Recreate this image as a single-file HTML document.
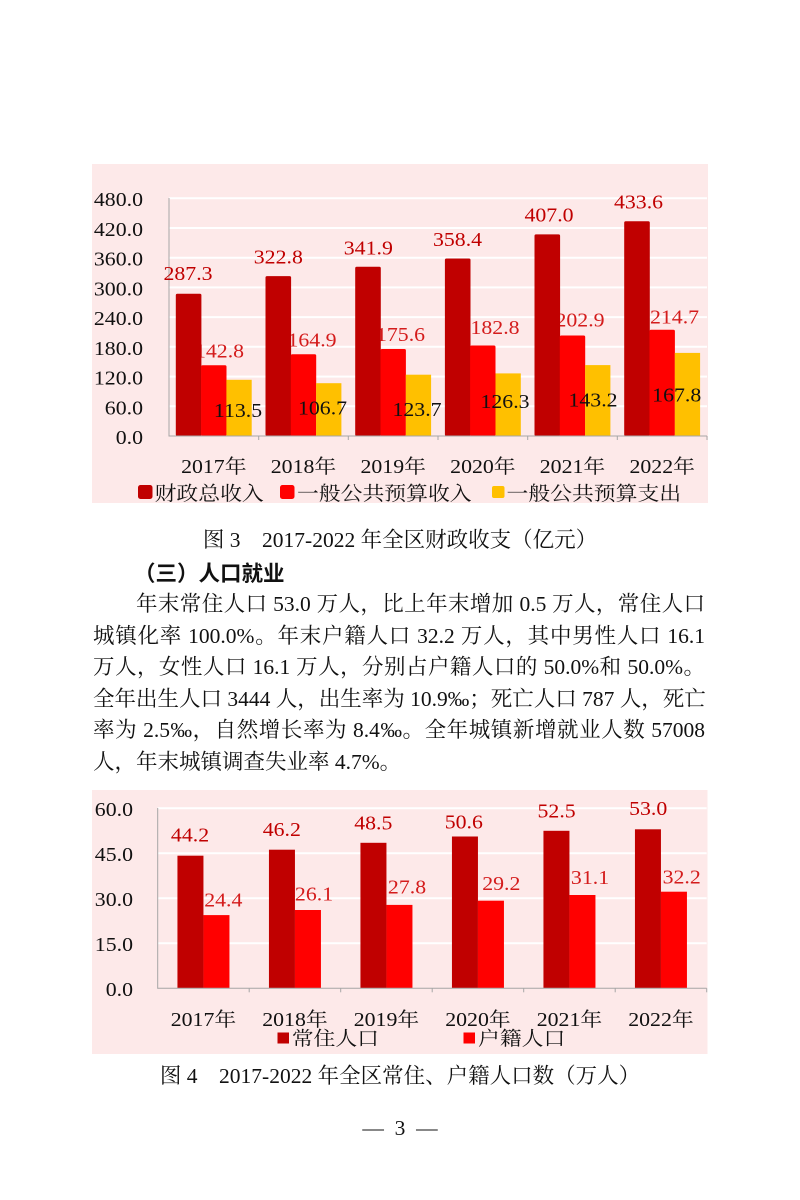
<!DOCTYPE html>
<html>
<head>
<meta charset="utf-8">
<style>
html,body{margin:0;padding:0;background:#fff;}
#page{position:relative;width:800px;height:1200px;overflow:hidden;background:#fff;}
svg{position:absolute;left:0;top:0;}
.t{position:absolute;font-family:"Liberation Serif","Noto Serif CJK SC",serif;font-size:21.5px;line-height:31.5px;color:#111;white-space:nowrap;}
.ln{left:93px;width:612px;text-align:justify;text-align-last:justify;}
.cap{left:0;width:800px;text-align:center;}
.hd{position:absolute;left:134px;font-family:"Noto Sans CJK SC",sans-serif;font-weight:700;font-size:21.5px;line-height:31.5px;color:#111;white-space:nowrap;}
</style>
</head>
<body>
<div id="page">
<svg width="800" height="1200" viewBox="0 0 800 1200" xmlns="http://www.w3.org/2000/svg" font-family="'Liberation Serif','Noto Serif CJK SC',serif" font-size="19.5">
  <!-- ============ CHART 1 ============ -->
  <rect x="92" y="164" width="616" height="339" fill="#fde9e9"/>
  <g stroke="#ffffff" stroke-width="2">
    <line x1="169" y1="406.3" x2="707" y2="406.3"/>
    <line x1="169" y1="376.6" x2="707" y2="376.6"/>
    <line x1="169" y1="346.8" x2="707" y2="346.8"/>
    <line x1="169" y1="317.1" x2="707" y2="317.1"/>
    <line x1="169" y1="287.4" x2="707" y2="287.4"/>
    <line x1="169" y1="257.7" x2="707" y2="257.7"/>
    <line x1="169" y1="228.0" x2="707" y2="228.0"/>
    <line x1="169" y1="198.2" x2="707" y2="198.2"/>
  </g>
  <!-- red labels (drawn under bars) -->
  <g fill="#d41c1c">
    <text transform="translate(219.5,357.5) scale(1.12,1)" text-anchor="middle">142.8</text>
    <text transform="translate(312,346.7) scale(1.12,1)" text-anchor="middle">164.9</text>
    <text transform="translate(400.5,341) scale(1.12,1)" text-anchor="middle">175.6</text>
    <text transform="translate(495,334) scale(1.12,1)" text-anchor="middle">182.8</text>
    <text transform="translate(580,326.7) scale(1.12,1)" text-anchor="middle">202.9</text>
    <text transform="translate(674.5,323.3) scale(1.12,1)" text-anchor="middle">214.7</text>
  </g>
  <!-- dark red bars -->
  <g fill="#c00000">
    <rect x="175.8" y="293.7" width="25.6" height="142.3" rx="1.5"/>
    <rect x="265.5" y="276.1" width="25.6" height="159.9" rx="1.5"/>
    <rect x="355.2" y="266.7" width="25.6" height="169.3" rx="1.5"/>
    <rect x="444.9" y="258.5" width="25.6" height="177.5" rx="1.5"/>
    <rect x="534.5" y="234.4" width="25.6" height="201.6" rx="1.5"/>
    <rect x="624.2" y="221.2" width="25.6" height="214.8" rx="1.5"/>
  </g>
  <g fill="#ff0000">
    <rect x="201.1" y="365.3" width="25.4" height="70.7" rx="1.5"/>
    <rect x="290.8" y="354.3" width="25.4" height="81.7" rx="1.5"/>
    <rect x="380.5" y="349.0" width="25.4" height="87.0" rx="1.5"/>
    <rect x="470.1" y="345.5" width="25.4" height="90.5" rx="1.5"/>
    <rect x="559.8" y="335.5" width="25.4" height="100.5" rx="1.5"/>
    <rect x="649.5" y="329.7" width="25.4" height="106.3" rx="1.5"/>
  </g>
  <g fill="#ffc000">
    <rect x="226.4" y="379.8" width="25.3" height="56.2"/>
    <rect x="316.1" y="383.2" width="25.3" height="52.8"/>
    <rect x="405.8" y="374.7" width="25.3" height="61.3"/>
    <rect x="495.5" y="373.4" width="25.3" height="62.6"/>
    <rect x="585.1" y="365.1" width="25.3" height="70.9"/>
    <rect x="674.8" y="352.9" width="25.3" height="83.1"/>
  </g>
  <!-- axes -->
  <g stroke="#a6a6a6" stroke-width="1" fill="none">
    <line x1="169" y1="198" x2="169" y2="436.5"/>
    <line x1="169" y1="436" x2="707" y2="436"/>
    <line x1="258.7" y1="436" x2="258.7" y2="440"/>
    <line x1="348.3" y1="436" x2="348.3" y2="440"/>
    <line x1="438" y1="436" x2="438" y2="440"/>
    <line x1="527.7" y1="436" x2="527.7" y2="440"/>
    <line x1="617.3" y1="436" x2="617.3" y2="440"/>
    <line x1="707" y1="436" x2="707" y2="440"/>
  </g>
  <!-- dark red labels -->
  <g fill="#c00000">
    <text transform="translate(188,280) scale(1.12,1)" text-anchor="middle">287.3</text>
    <text transform="translate(278.3,263.3) scale(1.12,1)" text-anchor="middle">322.8</text>
    <text transform="translate(368.3,254.3) scale(1.12,1)" text-anchor="middle">341.9</text>
    <text transform="translate(457.5,246) scale(1.12,1)" text-anchor="middle">358.4</text>
    <text transform="translate(549,221.7) scale(1.12,1)" text-anchor="middle">407.0</text>
    <text transform="translate(638.5,208.3) scale(1.12,1)" text-anchor="middle">433.6</text>
  </g>
  <!-- yellow labels -->
  <g fill="#111">
    <text transform="translate(238,417) scale(1.12,1)" text-anchor="middle">113.5</text>
    <text transform="translate(322.5,414.5) scale(1.12,1)" text-anchor="middle">106.7</text>
    <text transform="translate(417,416) scale(1.12,1)" text-anchor="middle">123.7</text>
    <text transform="translate(505,408) scale(1.12,1)" text-anchor="middle">126.3</text>
    <text transform="translate(593,406.5) scale(1.12,1)" text-anchor="middle">143.2</text>
    <text transform="translate(676.7,401.5) scale(1.12,1)" text-anchor="middle">167.8</text>
  </g>
  <!-- y tick labels -->
  <g fill="#111" text-anchor="end">
    <text transform="translate(143,206.2) scale(1.12,1)">480.0</text>
    <text transform="translate(143,236) scale(1.12,1)">420.0</text>
    <text transform="translate(143,265.7) scale(1.12,1)">360.0</text>
    <text transform="translate(143,295.4) scale(1.12,1)">300.0</text>
    <text transform="translate(143,325.1) scale(1.12,1)">240.0</text>
    <text transform="translate(143,354.8) scale(1.12,1)">180.0</text>
    <text transform="translate(143,384.6) scale(1.12,1)">120.0</text>
    <text transform="translate(143,414.3) scale(1.12,1)">60.0</text>
    <text transform="translate(143,444) scale(1.12,1)">0.0</text>
  </g>
  <!-- x labels -->
  <g fill="#111" text-anchor="middle">
    <text transform="translate(213.8,473) scale(1.12,1)">2017年</text>
    <text transform="translate(303.5,473) scale(1.12,1)">2018年</text>
    <text transform="translate(393.2,473) scale(1.12,1)">2019年</text>
    <text transform="translate(482.9,473) scale(1.12,1)">2020年</text>
    <text transform="translate(572.5,473) scale(1.12,1)">2021年</text>
    <text transform="translate(662.2,473) scale(1.12,1)">2022年</text>
  </g>
  <!-- legend 1 -->
  <rect x="138" y="485" width="14.5" height="14" rx="2.5" fill="#c00000"/>
  <rect x="280" y="485" width="14.5" height="14" rx="2.5" fill="#ff0000"/>
  <rect x="492" y="486" width="12.5" height="12" rx="2" fill="#ffc000"/>
  <g fill="#111">
    <text transform="translate(154.6,500) scale(1.12,1)">财政总收入</text>
    <text transform="translate(297,500) scale(1.12,1)">一般公共预算收入</text>
    <text transform="translate(506.5,500) scale(1.12,1)">一般公共预算支出</text>
  </g>

  <!-- ============ CHART 2 ============ -->
  <rect x="92" y="790" width="615.5" height="264" fill="#fde9e9"/>
  <g stroke="#ffffff" stroke-width="2">
    <line x1="157.7" y1="808.3" x2="706.7" y2="808.3"/>
    <line x1="157.7" y1="853.3" x2="706.7" y2="853.3"/>
    <line x1="157.7" y1="898.3" x2="706.7" y2="898.3"/>
    <line x1="157.7" y1="943.3" x2="706.7" y2="943.3"/>
  </g>
  <g fill="#c00000">
    <rect x="177.45" y="855.7" width="26" height="132.6"/>
    <rect x="268.95" y="849.7" width="26" height="138.6"/>
    <rect x="360.45" y="842.8" width="26" height="145.5"/>
    <rect x="451.95" y="836.5" width="26" height="151.8"/>
    <rect x="543.45" y="830.8" width="26" height="157.5"/>
    <rect x="634.95" y="829.3" width="26" height="159.0"/>
  </g>
  <g fill="#ff0000">
    <rect x="203.45" y="915.1" width="26" height="73.2"/>
    <rect x="294.95" y="910.0" width="26" height="78.3"/>
    <rect x="386.45" y="904.9" width="26" height="83.4"/>
    <rect x="477.95" y="900.7" width="26" height="87.6"/>
    <rect x="569.45" y="895.0" width="26" height="93.3"/>
    <rect x="660.95" y="891.7" width="26" height="96.6"/>
  </g>
  <g stroke="#a6a6a6" stroke-width="1" fill="none">
    <line x1="157.7" y1="808" x2="157.7" y2="988.8"/>
    <line x1="157.7" y1="988.3" x2="706.7" y2="988.3"/>
    <line x1="249.2" y1="988.3" x2="249.2" y2="992.3"/>
    <line x1="340.7" y1="988.3" x2="340.7" y2="992.3"/>
    <line x1="432.2" y1="988.3" x2="432.2" y2="992.3"/>
    <line x1="523.7" y1="988.3" x2="523.7" y2="992.3"/>
    <line x1="615.2" y1="988.3" x2="615.2" y2="992.3"/>
    <line x1="706.7" y1="988.3" x2="706.7" y2="992.3"/>
  </g>
  <g fill="#c00000" text-anchor="middle">
    <text transform="translate(190,841.7) scale(1.12,1)">44.2</text>
    <text transform="translate(281.8,836) scale(1.12,1)">46.2</text>
    <text transform="translate(373.3,829.3) scale(1.12,1)">48.5</text>
    <text transform="translate(463.8,828.3) scale(1.12,1)">50.6</text>
    <text transform="translate(556.6,817.3) scale(1.12,1)">52.5</text>
    <text transform="translate(648.2,815) scale(1.12,1)">53.0</text>
  </g>
  <g fill="#d41c1c" text-anchor="middle">
    <text transform="translate(223.3,906.7) scale(1.12,1)">24.4</text>
    <text transform="translate(314,900.7) scale(1.12,1)">26.1</text>
    <text transform="translate(407,893.3) scale(1.12,1)">27.8</text>
    <text transform="translate(501.3,890) scale(1.12,1)">29.2</text>
    <text transform="translate(590,884) scale(1.12,1)">31.1</text>
    <text transform="translate(681.7,883.3) scale(1.12,1)">32.2</text>
  </g>
  <g fill="#111" text-anchor="end">
    <text transform="translate(133,815.8) scale(1.12,1)">60.0</text>
    <text transform="translate(133,860.8) scale(1.12,1)">45.0</text>
    <text transform="translate(133,905.8) scale(1.12,1)">30.0</text>
    <text transform="translate(133,950.8) scale(1.12,1)">15.0</text>
    <text transform="translate(133,995.8) scale(1.12,1)">0.0</text>
  </g>
  <g fill="#111" text-anchor="middle">
    <text transform="translate(203.45,1026) scale(1.12,1)">2017年</text>
    <text transform="translate(294.95,1026) scale(1.12,1)">2018年</text>
    <text transform="translate(386.45,1026) scale(1.12,1)">2019年</text>
    <text transform="translate(477.95,1026) scale(1.12,1)">2020年</text>
    <text transform="translate(569.45,1026) scale(1.12,1)">2021年</text>
    <text transform="translate(660.95,1026) scale(1.12,1)">2022年</text>
  </g>
  <rect x="277.5" y="1032.5" width="11.5" height="11" fill="#c00000"/>
  <rect x="463.5" y="1032.5" width="11.5" height="11" fill="#ff0000"/>
  <g fill="#111">
    <text transform="translate(291.7,1045) scale(1.12,1)">常住人口</text>
    <text transform="translate(478,1045) scale(1.12,1)">户籍人口</text>
  </g>
</svg>

<div class="t cap" style="top:525px;">图 3　2017-2022 年全区财政收支（亿元）</div>
<div class="hd" style="top:557px;">（三）人口就业</div>
<div class="t ln" style="top:589px;padding-left:43px;width:569px;">年末常住人口 53.0 万人，比上年末增加 0.5 万人，常住人口</div>
<div class="t ln" style="top:620.5px;">城镇化率 100.0%。年末户籍人口 32.2 万人，其中男性人口 16.1</div>
<div class="t ln" style="top:652px;">万人，女性人口 16.1 万人，分别占户籍人口的 50.0%和 50.0%。</div>
<div class="t ln" style="top:683.5px;">全年出生人口 3444 人，出生率为 10.9‰；死亡人口 787 人，死亡</div>
<div class="t ln" style="top:715px;">率为 2.5‰，自然增长率为 8.4‰。全年城镇新增就业人数 57008</div>
<div class="t" style="top:746.5px;left:93px;">人，年末城镇调查失业率 4.7%。</div>
<div class="t cap" style="top:1061px;">图 4　2017-2022 年全区常住、户籍人口数（万人）</div>
<div class="t cap" style="top:1113px;">—&ensp;3&ensp;—</div>
</div>
</body>
</html>
